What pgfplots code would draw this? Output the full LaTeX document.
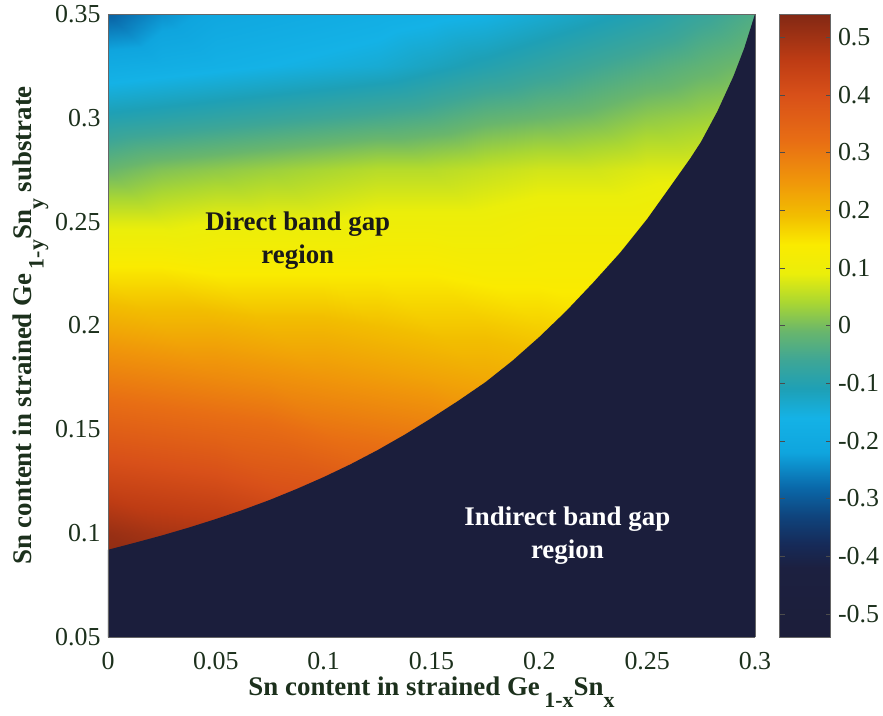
\documentclass[border=0pt]{standalone}
\usepackage{pgfplots}
\pgfplotsset{compat=1.18}
\usepackage{fontspec}
\setmainfont{Liberation Serif}
\definecolor{txt}{RGB}{28,48,28}
\definecolor{navy}{RGB}{27,30,60}
\pgfplotsset{colormap={gesn}{
 rgb255(0pt)=(28,30,58);
 rgb255(12pt)=(28,32,64);
 rgb255(16pt)=(22,42,88);
 rgb255(21pt)=(15,68,125);
 rgb255(26pt)=(10,105,170);
 rgb255(32pt)=(15,165,222);
 rgb255(38pt)=(20,178,230);
 rgb255(43pt)=(30,160,182);
 rgb255(48pt)=(62,166,150);
 rgb255(53pt)=(105,182,108);
 rgb255(58pt)=(170,215,50);
 rgb255(63pt)=(235,238,10);
 rgb255(68pt)=(250,235,0);
 rgb255(73pt)=(242,190,0);
 rgb255(79pt)=(240,150,10);
 rgb255(86pt)=(232,110,20);
 rgb255(94pt)=(216,80,25);
 rgb255(100pt)=(190,60,20);
 rgb255(108pt)=(130,40,20)}}
\pgfplotstableread{
x y z
0 0.05 0.62
0.025 0.05 0.60
0.05 0.05 0.58
0.075 0.05 0.56
0.1 0.05 0.54
0.125 0.05 0.52
0.15 0.05 0.50
0.175 0.05 0.48
0.2 0.05 0.46
0.225 0.05 0.44
0.25 0.05 0.42
0.275 0.05 0.40
0.3 0.05 0.38
0 0.075 0.57
0.025 0.075 0.55
0.05 0.075 0.53
0.075 0.075 0.51
0.1 0.075 0.49
0.125 0.075 0.47
0.15 0.075 0.45
0.175 0.075 0.43
0.2 0.075 0.41
0.225 0.075 0.39
0.25 0.075 0.37
0.275 0.075 0.35
0.3 0.075 0.33
0 0.1 0.51
0.025 0.1 0.49
0.05 0.1 0.48
0.075 0.1 0.46
0.1 0.1 0.44
0.125 0.1 0.43
0.15 0.1 0.41
0.175 0.1 0.39
0.2 0.1 0.37
0.225 0.1 0.35
0.25 0.1 0.33
0.275 0.1 0.31
0.3 0.1 0.29
0 0.125 0.43
0.025 0.125 0.42
0.05 0.125 0.41
0.075 0.125 0.39
0.1 0.125 0.38
0.125 0.125 0.36
0.15 0.125 0.35
0.175 0.125 0.33
0.2 0.125 0.32
0.225 0.125 0.30
0.25 0.125 0.29
0.275 0.125 0.27
0.3 0.125 0.26
0 0.15 0.36
0.025 0.15 0.35
0.05 0.15 0.34
0.075 0.15 0.33
0.1 0.15 0.31
0.125 0.15 0.30
0.15 0.15 0.29
0.175 0.15 0.27
0.2 0.15 0.26
0.225 0.15 0.25
0.25 0.15 0.24
0.275 0.15 0.22
0.3 0.15 0.21
0 0.175 0.29
0.025 0.175 0.28
0.05 0.175 0.27
0.075 0.175 0.26
0.1 0.175 0.25
0.125 0.175 0.24
0.15 0.175 0.23
0.175 0.175 0.22
0.2 0.175 0.21
0.225 0.175 0.20
0.25 0.175 0.19
0.275 0.175 0.18
0.3 0.175 0.17
0 0.2 0.22
0.025 0.2 0.21
0.05 0.2 0.21
0.075 0.2 0.20
0.1 0.2 0.20
0.125 0.2 0.19
0.15 0.2 0.18
0.175 0.2 0.18
0.2 0.2 0.17
0.225 0.2 0.16
0.25 0.2 0.16
0.275 0.2 0.15
0.3 0.2 0.15
0 0.225 0.15
0.025 0.225 0.15
0.05 0.225 0.14
0.075 0.225 0.14
0.1 0.225 0.14
0.125 0.225 0.14
0.15 0.225 0.14
0.175 0.225 0.13
0.2 0.225 0.13
0.225 0.225 0.13
0.25 0.225 0.13
0.275 0.225 0.13
0.3 0.225 0.13
0 0.25 0.08
0.025 0.25 0.08
0.05 0.25 0.09
0.075 0.25 0.09
0.1 0.25 0.09
0.125 0.25 0.10
0.15 0.25 0.10
0.175 0.25 0.10
0.2 0.25 0.11
0.225 0.25 0.11
0.25 0.25 0.11
0.275 0.25 0.12
0.3 0.25 0.12
0 0.275 -0.01
0.025 0.275 0.01
0.05 0.275 0.02
0.075 0.275 0.03
0.1 0.275 0.04
0.125 0.275 0.05
0.15 0.275 0.05
0.175 0.275 0.06
0.2 0.275 0.07
0.225 0.275 0.07
0.25 0.275 0.08
0.275 0.275 0.08
0.3 0.275 0.09
0 0.3 -0.10
0.025 0.3 -0.09
0.05 0.3 -0.08
0.075 0.3 -0.07
0.1 0.3 -0.06
0.125 0.3 -0.05
0.15 0.3 -0.04
0.175 0.3 -0.02
0.2 0.3 -0.01
0.225 0.3 0.00
0.25 0.3 0.02
0.275 0.3 0.03
0.3 0.3 0.04
0 0.325 -0.19
0.025 0.325 -0.18
0.05 0.325 -0.17
0.075 0.325 -0.16
0.1 0.325 -0.15
0.125 0.325 -0.14
0.15 0.325 -0.12
0.175 0.325 -0.10
0.2 0.325 -0.08
0.225 0.325 -0.06
0.25 0.325 -0.04
0.275 0.325 -0.02
0.3 0.325 0.00
0 0.35 -0.29
0.025 0.35 -0.24
0.05 0.35 -0.21
0.075 0.35 -0.20
0.1 0.35 -0.19
0.125 0.35 -0.18
0.15 0.35 -0.17
0.175 0.35 -0.16
0.2 0.35 -0.14
0.225 0.35 -0.12
0.25 0.35 -0.10
0.275 0.35 -0.07
0.3 0.35 -0.04
}\gapdata
\begin{document}
\begin{tikzpicture}
\useasboundingbox (-108bp,-79bp) rectangle (775bp,637bp);
\begin{axis}[
 at={(0,0)}, anchor=south west,
 scale only axis, width=647bp, height=623bp,
 view={0}{90},
 xmin=0, xmax=0.3, ymin=0.05, ymax=0.35,
 xtick={0,0.05,0.1,0.15,0.2,0.25,0.3},
 xticklabels={0,0.05,0.1,0.15,0.2,0.25,0.3},
 ytick={0.05,0.1,0.15,0.2,0.25,0.3,0.35},
 yticklabels={0.05,0.1,0.15,0.2,0.25,0.3,0.35},
 major tick length=0pt,
 tick label style={font=\fontsize{26}{30}\selectfont, text=txt},
 xticklabel style={yshift=-12bp},
 yticklabel style={xshift=-4bp},
 label style={font=\bfseries\fontsize{27}{31}\selectfont, text=txt},
 xlabel={Sn content in strained Ge\,\raisebox{-0.45em}{\fontsize{22}{22}\selectfont 1-x}Sn\raisebox{-0.45em}{\fontsize{22}{22}\selectfont x}},
 ylabel={Sn content in strained Ge\,\raisebox{-0.45em}{\fontsize{22}{22}\selectfont 1-y}Sn\raisebox{-0.45em}{\fontsize{22}{22}\selectfont y} substrate},
 colormap name=gesn,
 point meta min=-0.54, point meta max=0.54,
 colorbar,
 colorbar/width=51bp,
 colorbar style={at={(parent axis.north east)}, anchor=north west, xshift=16bp,
   ytick={-0.5,-0.4,-0.3,-0.2,-0.1,0,0.1,0.2,0.3,0.4,0.5},
   yticklabels={-0.5,-0.4,-0.3,-0.2,-0.1,0,0.1,0.2,0.3,0.4,0.5},
   ytick pos=both, yticklabel pos=right, ytick align=inside, major tick length=5bp,
   tick style={draw=black!70},
   tick label style={font=\fontsize{26}{30}\selectfont, text=txt},
   yticklabel style={xshift=4bp},
   axis line style={black!60}},
 axis on top,
 axis line style={black!60},
]
\addplot3[surf, shader=interp, mesh/cols=13] table[x=x, y=y, z=z] {\gapdata};
\addplot3[fill=navy, draw=none] coordinates {
 (0,0.092,0) (0.0125,0.0954,0) (0.025,0.0989,0) (0.0375,0.1027,0) (0.05,0.1068,0)
 (0.0625,0.1112,0) (0.075,0.116,0) (0.0875,0.1213,0) (0.1,0.127,0) (0.1125,0.1332,0)
 (0.125,0.14,0) (0.1375,0.1474,0) (0.15,0.1554,0) (0.1625,0.1638,0) (0.175,0.1727,0)
 (0.1875,0.183,0) (0.2,0.1945,0) (0.2125,0.207,0) (0.225,0.2207,0) (0.2375,0.2351,0)
 (0.25,0.2513,0) (0.2625,0.2695,0) (0.27,0.2805,0) (0.275,0.2885,0) (0.2825,0.303,0) (0.29,0.32,0)
 (0.295,0.3335,0) (0.3,0.35,0)
 (0.3,0.05,0) (0,0.05,0)};
\node[align=center, font=\bfseries\fontsize{27}{33}\selectfont, text=black!90] at (axis cs:0.088,0.241,0) {Direct band gap\\region};
\node[align=center, font=\bfseries\fontsize{27}{33}\selectfont, text=white] at (axis cs:0.213,0.099,0) {Indirect band gap\\region};
\end{axis}
\end{tikzpicture}
\end{document}
